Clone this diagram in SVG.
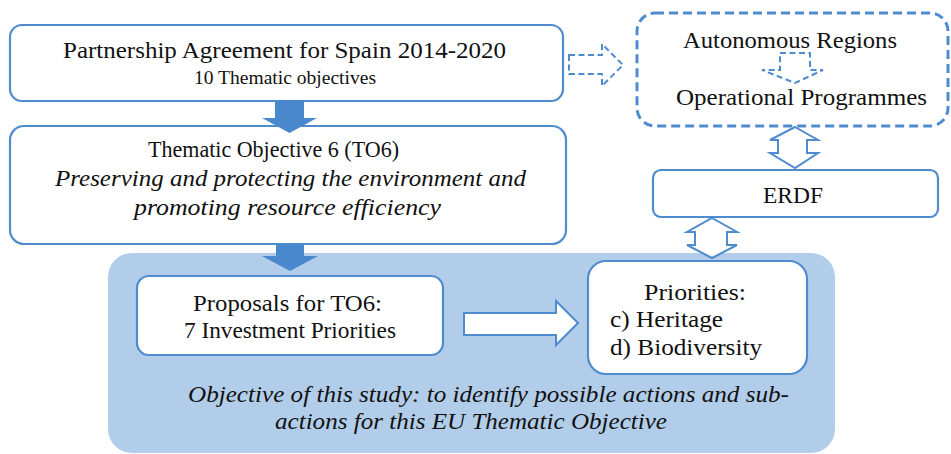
<svg xmlns="http://www.w3.org/2000/svg" width="951" height="454" viewBox="0 0 951 454">
<style>
.box{fill:#fff;stroke:#4f8bcf;stroke-width:2.2}
.dash{fill:#fff;stroke:#4f8bcf;stroke-width:3;stroke-dasharray:9 5}
.dashar{fill:#fff;stroke:#4f8bcf;stroke-width:2;stroke-dasharray:6 3.5}
.hollow{fill:#fff;stroke:#4f8bcf;stroke-width:2}
.solid{fill:#4a88cd;stroke:none}
.t{fill:#111;font-family:"Liberation Serif","Times New Roman",serif}
.it{font-style:italic}
</style>
<rect x="0" y="0" width="951" height="454" fill="#fff"/>
<g id="panel"><rect x="108" y="253" width="727" height="200" rx="24" fill="#b1cde9"/></g>
<g id="partnership">
<rect class="box" x="10" y="25" width="553" height="76" rx="12"/>
<text class="t" x="63" y="58" font-size="22.5" textLength="443" lengthAdjust="spacingAndGlyphs">Partnership Agreement for Spain 2014-2020</text>
<text class="t" x="194" y="84" font-size="18" textLength="182" lengthAdjust="spacingAndGlyphs">10 Thematic objectives</text>
</g>
<g id="to6">
<rect class="box" x="10" y="126" width="556" height="118" rx="14"/>
<text class="t" x="148" y="157" font-size="24" textLength="251" lengthAdjust="spacingAndGlyphs">Thematic Objective 6 (TO6)</text>
<text class="t it" x="55" y="186" font-size="24" textLength="471" lengthAdjust="spacingAndGlyphs">Preserving and protecting the environment and</text>
<text class="t it" x="134" y="215" font-size="24" textLength="307" lengthAdjust="spacingAndGlyphs">promoting resource efficiency</text>
</g>
<g id="autonomous">
<rect class="dash" x="637" y="13" width="311" height="113" rx="18"/>
<text class="t" x="683" y="48" font-size="23" textLength="214" lengthAdjust="spacingAndGlyphs">Autonomous Regions</text>
<text class="t" x="676" y="105" font-size="23" textLength="251" lengthAdjust="spacingAndGlyphs">Operational Programmes</text>
</g>
<g id="erdf">
<rect class="box" x="653" y="170" width="285" height="47" rx="8"/>
<text class="t" x="763" y="203" font-size="23" textLength="60" lengthAdjust="spacingAndGlyphs">ERDF</text>
</g>
<g id="proposals">
<rect class="box" x="137" y="276" width="306" height="79" rx="12"/>
<text class="t" x="193" y="311" font-size="24" textLength="189" lengthAdjust="spacingAndGlyphs">Proposals for TO6:</text>
<text class="t" x="184" y="338" font-size="24" textLength="212" lengthAdjust="spacingAndGlyphs">7 Investment Priorities</text>
</g>
<g id="priorities">
<rect class="box" x="588" y="261" width="219" height="113" rx="18"/>
<text class="t" x="644" y="300" font-size="24" textLength="102" lengthAdjust="spacingAndGlyphs">Priorities:</text>
<text class="t" x="610" y="327" font-size="24" textLength="113" lengthAdjust="spacingAndGlyphs">c) Heritage</text>
<text class="t" x="610" y="355" font-size="24" textLength="152" lengthAdjust="spacingAndGlyphs">d) Biodiversity</text>
</g>
<g id="study-note">
<text class="t it" x="188" y="402" font-size="24" textLength="601" lengthAdjust="spacingAndGlyphs">Objective of this study: to identify possible actions and sub-</text>
<text class="t it" x="275" y="429" font-size="24" textLength="392" lengthAdjust="spacingAndGlyphs">actions for this EU Thematic Objective</text>
</g>
<g id="connectors">
<polygon class="solid" points="275,100 304,100 304,118 317,118 289.5,133 262,118 275,118"/>
<polygon class="solid" points="276,244 304,244 304,256 318,256 290,271 262,256 276,256"/>
<polygon class="hollow" points="464,313 556,313 556,301 578,323 556,345 556,335 464,335"/>
<polygon class="dashar" points="569,55 602,55 602,44 623,65 602,86 602,74 569,74"/>
<polygon class="dashar" points="780,53 810,53 810,70 823,70 795,83 762,70 780,70"/>
<polygon class="hollow" points="795,127 818,140 807,140 807,153 818,153 795,168 770,153 778,153 778,140 770,140"/>
<polygon class="hollow" points="712,218 737,232 727,232 727,245 737,245 712,258 687,245 695,245 695,232 687,232"/>
</g>
</svg>
